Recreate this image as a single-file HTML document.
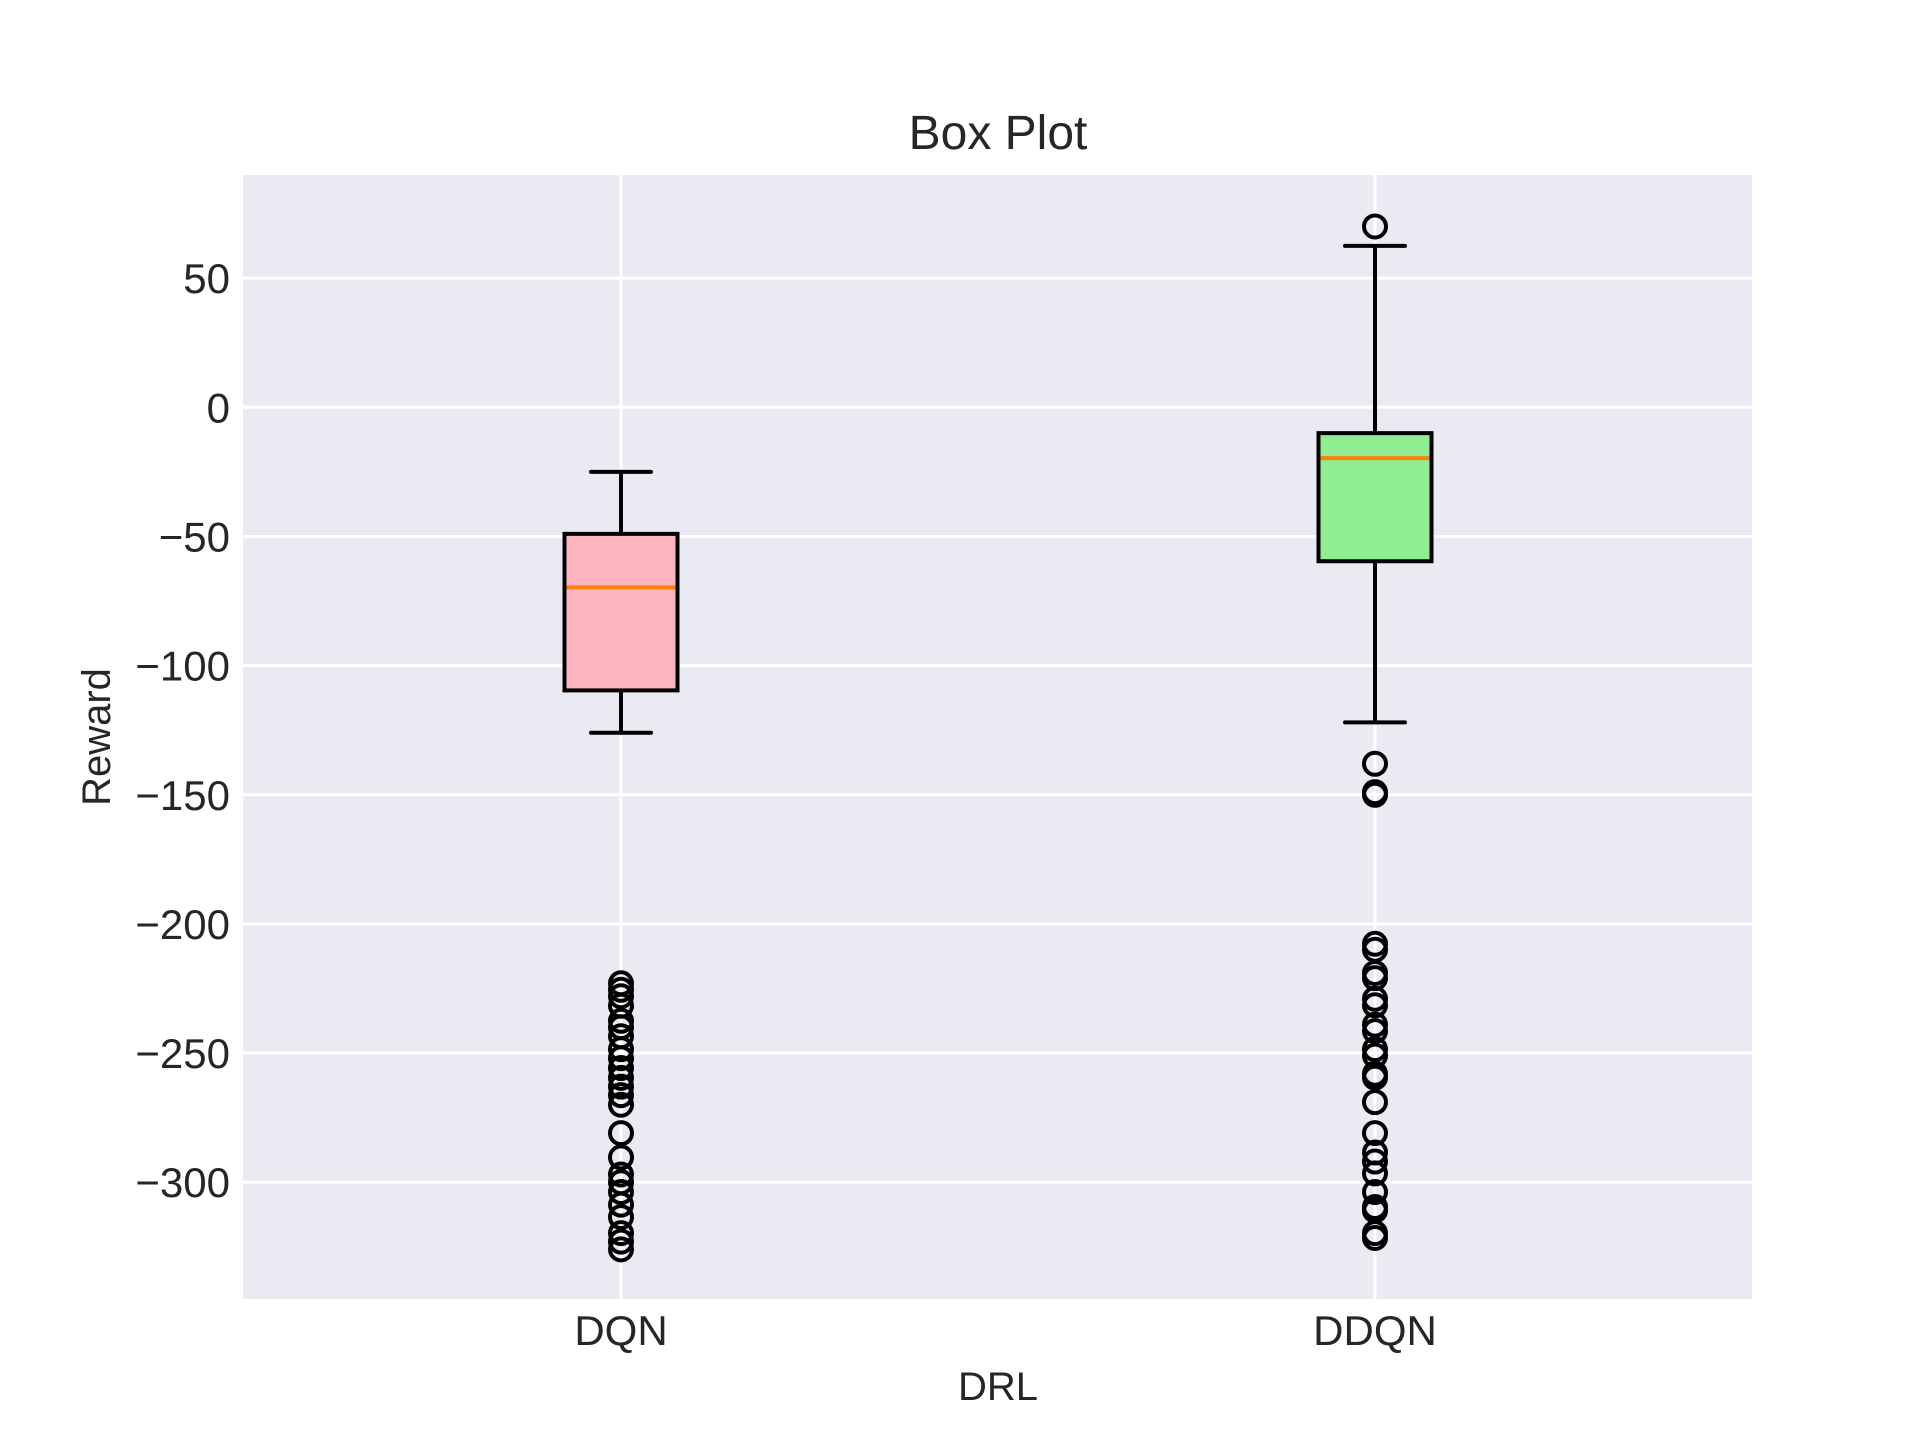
<!DOCTYPE html>
<html><head><meta charset="utf-8"><style>
html,body{margin:0;padding:0;background:#fff;}
svg text{font-family:"Liberation Sans",Arial,sans-serif;fill:#262626;}
</style></head><body>
<svg id="chart" width="1920" height="1440" xmlns="http://www.w3.org/2000/svg">
<rect x="243" y="175" width="1509" height="1124" fill="#eaeaf2"/>
<g id="grid"></g>
<g id="boxes"></g>
<g id="ticks"></g>
<text x="998" y="149" font-size="48" text-anchor="middle">Box Plot</text>
<text x="998" y="1400" font-size="40" text-anchor="middle">DRL</text>
<text x="0" y="0" font-size="40" text-anchor="middle" transform="translate(110,737) rotate(-90)">Reward</text>
</svg>
<script>
const categories = ["DQN", "DDQN"];
const whiskerHigh = [-25, 62.5];
const q3 = [-49, -10];
const medians = [-69.7, -19.7];
const q1 = [-109.6, -59.6];
const whiskerLow = [-126, -122];
const fliersDQN = [-223,-225.5,-228,-231.7,-237.5,-240,-243.5,-248.5,-252,-255.8,-259.6,-263,-266.3,-270,-281,-290.4,-297,-300,-303.8,-308.7,-313.5,-319.7,-323,-326];
const fliersDDQN = [70,-138,-149,-150,-207.7,-210,-219,-221,-229,-231.5,-239,-241.5,-248.5,-251,-258,-259.5,-269,-281,-288.5,-292,-296.6,-303.8,-309.6,-311,-319.7,-321.6];
const yTicks = [50, 0, -50, -100, -150, -200, -250, -300];
const yTickLabels = ["50", "0", "\u221250", "\u2212100", "\u2212150", "\u2212200", "\u2212250", "\u2212300"];

const NS = "http://www.w3.org/2000/svg";
function y(v){ return 407.3 - v * 2.583; }
function x(i){ return 621 + i * 754; }
function mk(tag, attrs, parent){
  const e = document.createElementNS(NS, tag);
  for (const k in attrs) e.setAttribute(k, attrs[k]);
  parent.appendChild(e);
  return e;
}
const grid = document.getElementById('grid');
const boxes = document.getElementById('boxes');
const ticks = document.getElementById('ticks');

yTicks.forEach((t, i) => {
  const l = mk('line', {x1:243, x2:1752, y1:y(t), y2:y(t), stroke:'#fff', 'stroke-width':3}, grid);
  
  
  const tx = mk('text', {x:230, y:y(t)+15, 'font-size':42, 'text-anchor':'end'}, ticks);
  tx.textContent = yTickLabels[i];
  
  
});
categories.forEach((c, i) => {
  const l = mk('line', {x1:x(i), x2:x(i), y1:175, y2:1299, stroke:'#fff', 'stroke-width':3}, grid);
  
  
  const tx = mk('text', {x:x(i), y:1345, 'font-size':42, 'text-anchor':'middle'}, ticks);
  tx.textContent = c;
  
  
});

const fills = ['#ffb6c1', '#90ee90'];
const fliers = [fliersDQN, fliersDDQN];
const hw = 56.5, cap = 30;
categories.forEach((c, i) => {
  const g = mk('g', {}, boxes);
  
  
  const cx = x(i);
  const s = {stroke:'#000', 'stroke-width':4, 'stroke-linecap':'round'};
  const w1 = mk('line', Object.assign({x1:cx, x2:cx, y1:y(whiskerHigh[i]), y2:y(q3[i])}, s), g);
  
  
  const w2 = mk('line', Object.assign({x1:cx, x2:cx, y1:y(q1[i]), y2:y(whiskerLow[i])}, s), g);
  
  
  const c1 = mk('line', Object.assign({x1:cx-cap, x2:cx+cap, y1:y(whiskerHigh[i]), y2:y(whiskerHigh[i])}, s), g);
  
  
  const c2 = mk('line', Object.assign({x1:cx-cap, x2:cx+cap, y1:y(whiskerLow[i]), y2:y(whiskerLow[i])}, s), g);
  
  
  const r = mk('rect', {x:cx-hw, y:y(q3[i]), width:2*hw, height:y(q1[i])-y(q3[i]), fill:fills[i], stroke:'#000', 'stroke-width':4}, g);
  
  
  const m = mk('line', {x1:cx-hw+2, x2:cx+hw-2, y1:y(medians[i]), y2:y(medians[i]), stroke:'#ff7f0e', 'stroke-width':4}, g);
  
  
  fliers[i].forEach(v => {
    const p = mk('circle', {cx:cx, cy:y(v), r:11, fill:'none', stroke:'#000', 'stroke-width':4}, g);
    
    
  });
});
</script>
</body></html>
